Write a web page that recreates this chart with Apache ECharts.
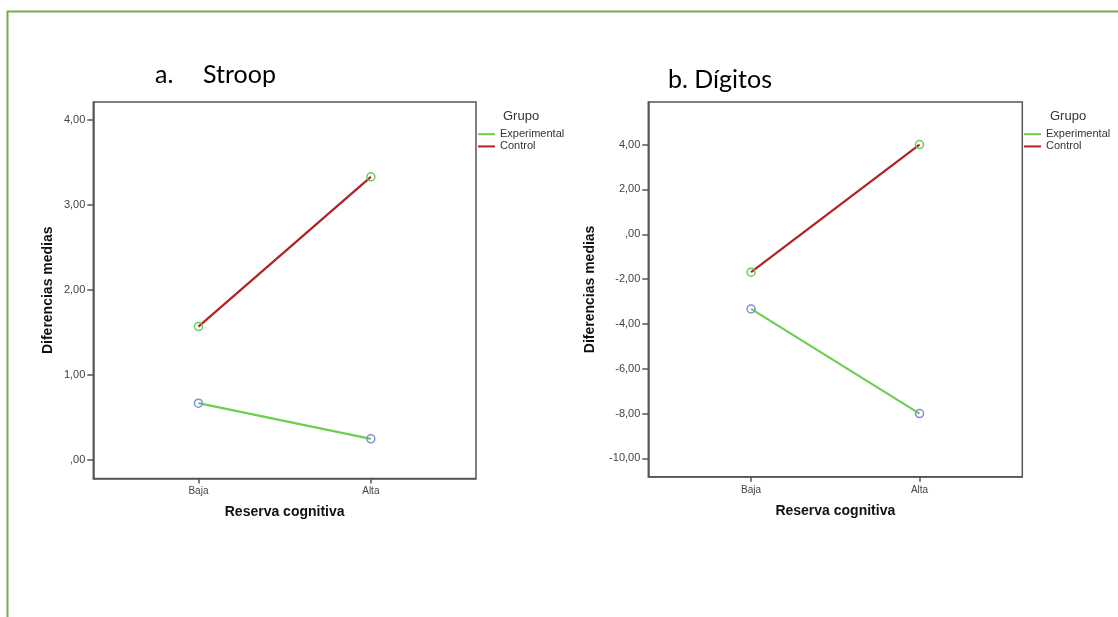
<!DOCTYPE html>
<html>
<head>
<meta charset="utf-8">
<style>
html,body{margin:0;padding:0;background:#fff;}
#chart{width:1118px;height:617px;}
</style>
<script src="https://cdn.jsdelivr.net/npm/echarts@6/dist/echarts.min.js"></script>
</head>
<body>
<div id="chart"></div>
<script>
// ---- data ----
const categories = ['Baja', 'Alta'];
const groups = ['Experimental', 'Control'];
const stroopExperimental = [0.67, 0.25];
const stroopControl = [1.57, 3.33];
const digitosExperimental = [-3.33, -8.00];
const digitosControl = [-1.69, 4.00];
const stroopTicks = [0, 1, 2, 3, 4];
const digitosTicks = [-10, -8, -6, -4, -2, 0, 2, 4];

// ---- styles ----
const GREEN = '#6ccf4e';
const RED = '#b22222';
const MARK_ON_RED = '#66cc66';
const MARK_ON_GREEN = '#7d8fd8';
const AX = '#555';
const LBL = '#444';

function fmt(v) {
  if (Math.abs(v) < 1e-9) return ',00';
  return v.toFixed(2).replace('.', ',');
}
function pts(arr) { return categories.map((c, i) => [i, arr[i]]); }

const chart = echarts.init(document.getElementById('chart'), null, {renderer: 'canvas'});

function xAxis(gridIndex) {
  return {
    type: 'value', gridIndex, min: -0.61, max: 1.61,
    name: 'Reserva cognitiva', nameLocation: 'middle', nameGap: 27,
    nameTextStyle: {fontFamily: 'Liberation Sans', fontWeight: 'bold', fontSize: 14, color: '#111'},
    axisLine: {show: true, onZero: false, lineStyle: {color: AX, width: 1.5}},
    axisTick: {show: true, length: 5, customValues: [0, 1], lineStyle: {color: AX, width: 1.5}},
    axisLabel: {customValues: [0, 1], margin: 8, fontFamily: 'Liberation Sans', fontSize: 10, color: LBL,
      formatter: v => categories[Math.round(v)]},
    splitLine: {show: false}
  };
}
function yAxis(gridIndex, min, max, ticks, gap) {
  return {
    type: 'value', gridIndex, min, max,
    name: 'Diferencias medias', nameLocation: 'middle', nameGap: gap, nameRotate: 90,
    nameTextStyle: {fontFamily: 'Liberation Sans', fontWeight: 'bold', fontSize: 14, color: '#111'},
    axisLine: {show: true, onZero: false, lineStyle: {color: AX, width: 1.5}},
    axisTick: {show: true, length: 6, customValues: ticks, lineStyle: {color: AX, width: 1.5}},
    axisLabel: {customValues: ticks, margin: 8, fontFamily: 'Liberation Sans', fontSize: 11, color: LBL,
      formatter: fmt},
    splitLine: {show: false}
  };
}
function series(name, data, xi, lineColor, markColor) {
  return {
    name, type: 'line', xAxisIndex: xi, yAxisIndex: xi, data: pts(data),
    symbol: 'circle', symbolSize: 8, z: 3,
    lineStyle: {color: lineColor, width: 2.2},
    itemStyle: {color: 'rgba(255,255,255,0)', borderColor: markColor, borderWidth: 1.5},
    emphasis: {disabled: true}, animation: false
  };
}
function legend(left) {
  return {
    orient: 'vertical', left, top: 128, padding: 0, itemGap: 0,
    itemWidth: 17, itemHeight: 2, icon: 'rect', selectedMode: false,
    textStyle: {fontFamily: 'Liberation Sans', fontSize: 11, color: '#333', lineHeight: 12.3},
    data: [
      {name: groups[0], itemStyle: {color: GREEN, borderWidth: 0}},
      {name: groups[1], itemStyle: {color: RED, borderWidth: 0}}
    ]
  };
}

chart.setOption({
  animation: false,
  backgroundColor: '#fff',
  grid: [
    {left: 93.3, top: 102, width: 382.7, height: 376.5, show: true, borderColor: AX, borderWidth: 1.5, backgroundColor: 'transparent'},
    {left: 648.3, top: 102, width: 374, height: 374.8, show: true, borderColor: AX, borderWidth: 1.5, backgroundColor: 'transparent'}
  ],
  xAxis: [xAxis(0), xAxis(1)],
  yAxis: [
    yAxis(0, -0.216, 4.21, stroopTicks, 38),
    yAxis(1, -10.82, 5.90, digitosTicks, 51)
  ],
  legend: [legend(478), legend(1024)],
  series: [
    series(groups[0], stroopExperimental, 0, GREEN, MARK_ON_GREEN),
    series(groups[1], stroopControl, 0, RED, MARK_ON_RED),
    series(groups[0], digitosExperimental, 1, GREEN, MARK_ON_GREEN),
    series(groups[1], digitosControl, 1, RED, MARK_ON_RED)
  ],
  graphic: [
    {type: 'rect', shape: {x: 7.5, y: 11.5, width: 1200, height: 700}, z: 0,
      style: {fill: 'none', stroke: '#72ae4a', lineWidth: 2}},
    {type: 'text', left: 155, top: 62, style: {text: 'a.', font: '25px Lato', fill: '#000'}},
    {type: 'text', left: 203, top: 62, style: {text: 'Stroop', font: '25px Lato', fill: '#000'}},
    {type: 'text', left: 668, top: 67, style: {text: 'b. Dígitos', font: '25px Lato', fill: '#000'}},
    {type: 'text', left: 503, top: 110, style: {text: 'Grupo', font: '13px "Liberation Sans"', fill: '#333'}},
    {type: 'text', left: 1050, top: 110, style: {text: 'Grupo', font: '13px "Liberation Sans"', fill: '#333'}}
  ]
});
</script>
</body>
</html>
